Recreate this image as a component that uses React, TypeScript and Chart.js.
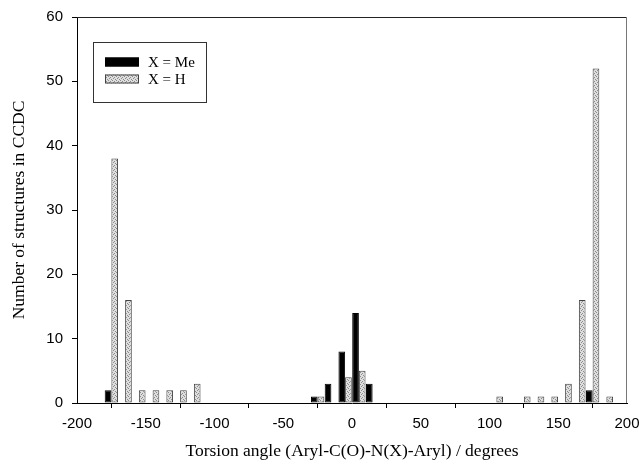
import React, { useEffect, useRef } from "react";
import { Chart, registerables } from "chart.js";

Chart.register(...registerables);

// Bin centres (degrees), 10-degree bins
const binCenters = [
  -195, -185, -175, -165, -155, -145, -135, -125, -115, -105,
  -95, -85, -75, -65, -55, -45, -35, -25, -15, -5,
  5, 15, 25, 35, 45, 55, 65, 75, 85, 95,
  105, 115, 125, 135, 145, 155, 165, 175, 185, 195,
];

// X = Me counts per bin
const meCounts = [
  0, 0, 2, 0, 0, 0, 0, 0, 0, 0,
  0, 0, 0, 0, 0, 0, 0, 1, 3, 8,
  14, 3, 0, 0, 0, 0, 0, 0, 0, 0,
  0, 0, 0, 0, 0, 0, 0, 2, 0, 0,
];

// X = H counts per bin
const hCounts = [
  0, 0, 38, 16, 2, 2, 2, 2, 3, 0,
  0, 0, 0, 0, 0, 0, 0, 1, 0, 4,
  5, 0, 0, 0, 0, 0, 0, 0, 0, 0,
  1, 0, 1, 1, 1, 3, 16, 52, 1, 0,
];

const seriesLabels = ["X = Me", "X = H"];
const xTitle = "Torsion angle (Aryl-C(O)-N(X)-Aryl) / degrees";
const yTitle = "Number of structures in CCDC";
const xRange = [-200, 200];
const yRange = [0, 60];
const xStep = 50;
const yStep = 10;

function makeStipple(): CanvasPattern | string {
  const c = document.createElement("canvas");
  c.width = 4;
  c.height = 4;
  const g = c.getContext("2d");
  if (!g) return "#d0d0d0";
  g.fillStyle = "#dedede";
  g.fillRect(0, 0, 4, 4);
  g.fillStyle = "#8c8c8c";
  g.fillRect(0, 0, 1, 1);
  g.fillRect(2, 1, 1, 1);
  g.fillRect(1, 2, 1, 1);
  g.fillRect(3, 3, 1, 1);
  const p = g.createPattern(c, "repeat");
  return p || "#d0d0d0";
}

const framePlugin = {
  id: "frame",
  afterDraw(chart: any) {
    const { ctx, chartArea } = chart;
    const { left, right, top, bottom } = chartArea;
    ctx.save();
    ctx.lineWidth = 1;
    ctx.strokeStyle = "#222";
    ctx.beginPath();
    ctx.moveTo(left, top + 0.5);
    ctx.lineTo(right, top + 0.5);
    ctx.stroke();
    ctx.strokeStyle = "#777";
    ctx.beginPath();
    ctx.moveTo(right - 0.5, top);
    ctx.lineTo(right - 0.5, bottom);
    ctx.stroke();
    ctx.restore();
  },
};

const boxLegendPlugin = {
  id: "boxLegend",
  afterDraw(chart: any) {
    const { ctx, chartArea } = chart;
    const bx = chartArea.left + 16.5;
    const by = chartArea.top + 25.5;
    const bw = 113;
    const bh = 60;
    ctx.save();
    ctx.fillStyle = "#fff";
    ctx.fillRect(bx, by, bw, bh);
    ctx.strokeStyle = "#333";
    ctx.lineWidth = 1;
    ctx.strokeRect(bx, by, bw, bh);
    const rows = [by + 19.5, by + 36.5];
    chart.data.datasets.forEach((ds: any, i: number) => {
      const cy = rows[i];
      const sx = bx + 11.5;
      const sw = 34;
      const sh = 9;
      ctx.fillStyle = ds.backgroundColor;
      ctx.fillRect(sx, cy - sh / 2, sw, sh);
      ctx.strokeStyle = ds.borderColor;
      ctx.strokeRect(sx + 0.5, cy - sh / 2 + 0.5, sw - 1, sh - 1);
      ctx.fillStyle = "#000";
      ctx.font = "15px 'Liberation Serif', 'Times New Roman', serif";
      ctx.textAlign = "left";
      ctx.textBaseline = "middle";
      ctx.fillText(ds.label, bx + 54.5, cy + 1);
    });
    ctx.restore();
  },
};

export default function App() {
  const ref = useRef<HTMLCanvasElement | null>(null);

  useEffect(() => {
    if (!ref.current) return;
    const stipple = makeStipple();
    const tickFont = { family: "'Liberation Sans', Arial, sans-serif", size: 15 };
    const titleFont = { family: "'Liberation Serif', 'Times New Roman', serif", size: 17.5 };

    const chart = new Chart(ref.current, {
      type: "bar",
      data: {
        datasets: [
          {
            label: seriesLabels[0],
            data: binCenters.map((x, i) => ({ x, y: meCounts[i] })),
            backgroundColor: "#000",
            borderColor: "#000",
            borderWidth: 1,
            borderSkipped: false,
            categoryPercentage: 0.97,
            barPercentage: 1,
          },
          {
            label: seriesLabels[1],
            data: binCenters.map((x, i) => ({ x, y: hCounts[i] })),
            backgroundColor: stipple as any,
            borderColor: "#444",
            borderWidth: 1,
            borderSkipped: false,
            categoryPercentage: 0.97,
            barPercentage: 1,
          },
        ],
      },
      options: {
        responsive: false,
        animation: false,
        layout: { padding: { left: 0, right: 12, top: 17, bottom: 0 } },
        plugins: {
          legend: { display: false },
          tooltip: { enabled: false },
        },
        scales: {
          x: {
            type: "linear",
            min: xRange[0],
            max: xRange[1],
            offset: false,
            afterFit: (s: any) => {
              s.height = 61;
              s.paddingLeft = 0;
              s.paddingRight = 0;
            },
            ticks: {
              stepSize: xStep,
              color: "#000",
              font: tickFont,
              padding: 7,
              maxRotation: 0,
              autoSkip: false,
            },
            grid: {
              drawOnChartArea: false,
              drawTicks: true,
              tickLength: 5,
              color: "#000",
            },
            border: { display: true, color: "#000" },
            title: {
              display: true,
              text: xTitle,
              color: "#000",
              font: titleFont,
              padding: { top: 0, bottom: 2 },
            },
          },
          y: {
            min: yRange[0],
            max: yRange[1],
            afterFit: (s: any) => {
              s.width = 77;
              s.paddingTop = 0;
              s.paddingBottom = 0;
            },
            ticks: {
              stepSize: yStep,
              color: "#000",
              font: tickFont,
              padding: 9,
              autoSkip: false,
            },
            grid: {
              drawOnChartArea: false,
              drawTicks: true,
              tickLength: 5,
              color: "#000",
            },
            border: { display: true, color: "#000" },
            title: {
              display: true,
              text: yTitle,
              color: "#000",
              font: titleFont,
              padding: { top: 9, bottom: 0 },
            },
          },
        },
      },
      plugins: [framePlugin, boxLegendPlugin],
    } as any);

    return () => chart.destroy();
  }, []);

  return (
    <div style={{ position: "absolute", left: 0, top: 0, width: 639, height: 464, background: "#fff" }}>
      <canvas ref={ref} width={639} height={464} style={{ width: 639, height: 464, display: "block" }} />
    </div>
  );
}
